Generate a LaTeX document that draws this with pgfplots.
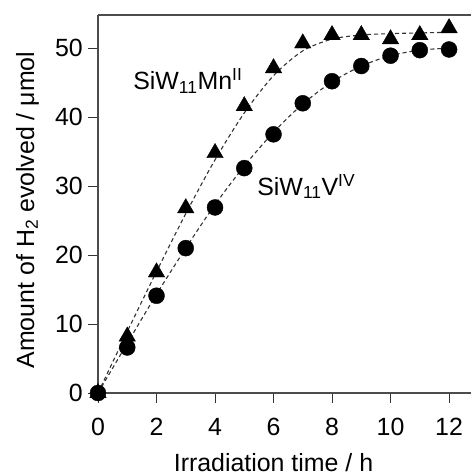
\documentclass[border=0pt]{standalone}
\usepackage{fontspec}
\setmainfont{Liberation Sans}
\usepackage{pgfplots}
\pgfplotsset{compat=1.18}
\begin{document}
\begin{tikzpicture}
\begin{axis}[
  scale only axis,
  width=373bp, height=378bp,
  xmin=0, xmax=12.75, ymin=0, ymax=54.8,
  axis x line=box, axis y line=left,
  axis line style={draw=black!70, line width=1.6pt, -},
  xtick={0,2,...,12}, ytick={0,10,...,50},
  xtick pos=bottom, ytick pos=left,
  tick align=outside,
  major tick length=10bp,
  tick style={draw=black!80, line width=0.9pt},
  /pgf/number format/assume math mode=true,
  ticklabel style={font=\fontsize{25}{30}\selectfont, inner sep=0pt},
  xticklabel style={yshift=-15bp},
  yticklabel style={xshift=-5bp},
  xlabel={Irradiation time / h},
  ylabel={Amount of H\textsubscript{2} evolved / μmol},
  xlabel style={font=\fontsize{25}{30}\selectfont, inner sep=0pt, at={(axis cs:6,0)}, anchor=base, yshift=-78bp},
  ylabel style={font=\fontsize{25}{30}\selectfont, inner sep=0pt, at={(axis description cs:0,0.484)}, anchor=center, yshift=70.5bp},
  clip=false,
]
% fitted curves (dashed)
\addplot[black!80, dash pattern=on 4bp off 3bp, line width=1.1pt, smooth, no marks] coordinates {
 (0,0) (1,8.9) (2,17.6) (3,26.0) (4,33.8) (5,40.6) (6,46.0) (7,49.6) (8,51.3) (9,51.9) (10,52.1) (11,52.2) (12,52.3)};
\addplot[black!80, dash pattern=on 4bp off 3bp, line width=1.1pt, smooth, no marks] coordinates {
 (0,0) (1,7.2) (2,14.3) (3,21.0) (4,27.3) (5,32.9) (6,37.8) (7,41.9) (8,45.1) (9,47.4) (10,48.9) (11,49.7) (12,50.0)};
% data
\addplot[only marks, mark=triangle*, mark size=9.5bp, black] coordinates {
 (0,0) (1,8.2) (2,17.5) (3,26.8) (4,34.8) (5,41.6) (6,47.1) (7,50.7) (8,51.9) (9,51.9) (10,51.3) (11,51.9) (12,52.9)};
\addplot[only marks, mark=*, mark size=8bp, black] coordinates {
 (0,0) (1,6.6) (2,14.1) (3,21.0) (4,26.9) (5,32.6) (6,37.5) (7,42.0) (8,45.2) (9,47.4) (10,48.9) (11,49.7) (12,49.8)};
\node[font=\fontsize{25}{30}\selectfont, inner sep=0pt, anchor=base west] at (axis cs:1.2,43.96) {SiW\textsubscript{11}Mn\textsuperscript{II}};
\node[font=\fontsize{25}{30}\selectfont, inner sep=0pt, anchor=base west] at (axis cs:5.44,28.7) {SiW\textsubscript{11}V\textsuperscript{IV}};
\end{axis}
\path (current axis.south west) ++(-98bp,-82bp) rectangle ++(471bp,475bp);
\end{tikzpicture}
\end{document}
